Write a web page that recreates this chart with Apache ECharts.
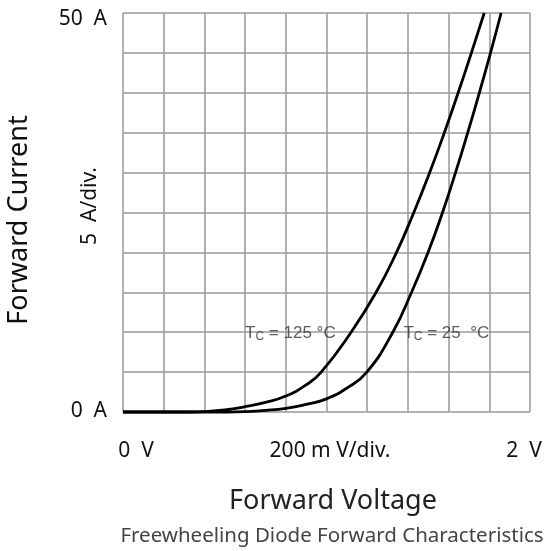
<!DOCTYPE html>
<html>
<head>
<meta charset="utf-8">
<script src="https://cdn.jsdelivr.net/npm/echarts@6/dist/echarts.min.js"></script>
<style>
  html, body { margin: 0; padding: 0; background: #fff; }
  #main { width: 549px; height: 551px; }
</style>
</head>
<body>
<div id="main"></div>
<script>
// forward voltage (V) / forward current (A)
var v125 = [0, 0.3, 0.4, 0.5, 0.6, 0.7, 0.8, 0.9, 0.974, 1.121, 1.244, 1.344, 1.429, 1.507, 1.579, 1.647, 1.712, 1.775]
var i125 = [0, 0, 0.05, 0.25, 0.66, 1.2, 2.0, 3.4, 5, 10, 15, 20, 25, 30, 35, 40, 45, 50]

var v25 = [0, 0.5, 0.6, 0.7, 0.8, 0.9, 1.0, 1.1, 1.198, 1.326, 1.418, 1.499, 1.570, 1.634, 1.694, 1.751, 1.806, 1.858]
var i25 = [0, 0, 0.05, 0.2, 0.46, 0.96, 1.65, 3.0, 5, 10, 15, 20, 25, 30, 35, 40, 45, 50]

// curve labels: left edge at (V, A)
var labelPos = [[0.6, 9.9], [1.378, 9.9]]
var labelText = ['{t|T}{s|C}{t| = 125 °C}', '{t|T}{s|C}{t| = 25  °C}']

var rich = {
    t: { fontFamily: 'Liberation Sans', fontSize: 17, color: '#333', lineHeight: 20 },
    s: { fontFamily: 'Liberation Sans', fontSize: 12, color: '#333', lineHeight: 20, verticalAlign: 'bottom', padding: [7, 0, 0, 0] }
}

// one smooth polyline per curve, points mapped through the axes
function curveSeries(name, xs, ys) {
    return {
        name: name,
        type: 'custom',
        coordinateSystem: 'cartesian2d',
        silent: true,
        data: [[xs[0], ys[0]]],
        renderItem: function (params, api) {
            var pts = xs.map(function (x, i) { return api.coord([x, ys[i]]) })
            return {
                type: 'polyline',
                shape: { points: pts, smooth: 0.5 },
                style: { stroke: '#000', lineWidth: 2.8, fill: null }
            }
        }
    }
}

function txt(x, y, s, size, color, align, rot) {
    return {
        type: 'text', x: x, y: y, rotation: rot || 0,
        style: { text: s, fontFamily: 'Noto Sans', fontSize: size, fill: color, align: align, verticalAlign: 'middle' }
    }
}

var chart = echarts.init(document.getElementById('main'))
chart.setOption({
    animation: false,
    backgroundColor: '#fff',
    grid: { left: 123, top: 13, right: 19, bottom: 139 },
    xAxis: {
        type: 'value', min: 0, max: 2, interval: 0.2,
        axisLine: { show: false }, axisTick: { show: false },
        axisLabel: { show: false },
        splitLine: { show: true, lineStyle: { color: '#999', width: 1.5 } }
    },
    yAxis: {
        type: 'value', min: 0, max: 50, interval: 5,
        axisLine: { show: false }, axisTick: { show: false },
        axisLabel: { show: false },
        splitLine: { show: true, lineStyle: { color: '#999', width: 1.5 } }
    },
    graphic: [
        txt(107, 19, '50  A', 21, '#111', 'right'),
        txt(107, 411, '0  A', 21, '#111', 'right'),
        txt(90, 206, '5  A/div.', 21, '#111', 'center', Math.PI / 2),
        txt(136, 451, '0  V', 21, '#111', 'center'),
        txt(330, 451, '200 m V/div.', 21, '#111', 'center'),
        txt(524, 451, '2  V', 21, '#111', 'center'),
        txt(19, 220, 'Forward Current', 27, '#111', 'center', Math.PI / 2),
        txt(333, 501, 'Forward Voltage', 27, '#222', 'center'),
        txt(332, 536, 'Freewheeling Diode Forward Characteristics', 20.5, '#444', 'center')
    ],
    series: [
        curveSeries('Tc = 125 °C', v125, i125),
        curveSeries('Tc = 25 °C', v25, i25),
        {
            type: 'scatter',
            silent: true,
            symbolSize: 0,
            data: labelPos,
            label: {
                show: true,
                position: 'right',
                distance: 0,
                formatter: function (p) { return labelText[p.dataIndex] },
                rich: rich
            }
        }
    ]
})
</script>
</body>
</html>
